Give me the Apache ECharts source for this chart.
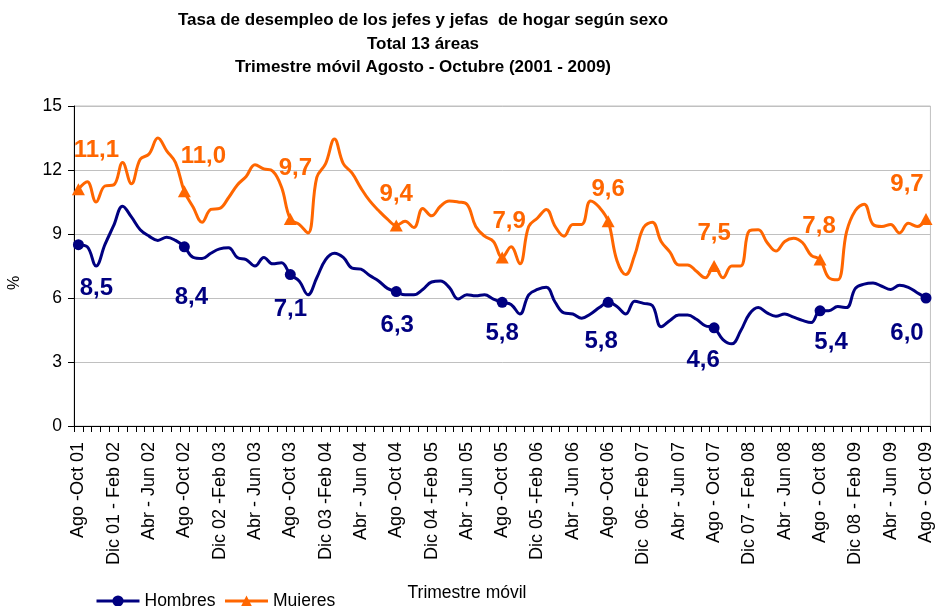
<!DOCTYPE html>
<html>
<head>
<meta charset="utf-8">
<title>Tasa de desempleo jefes y jefas de hogar</title>
<script src="https://cdn.jsdelivr.net/npm/echarts@6/dist/echarts.min.js"></script>
<style>
  html, body { margin: 0; padding: 0; background: #fff; }
  #main { width: 935px; height: 606px; }
</style>
</head>
<body>
<div id="main"></div>
<script>
// etiquetas del eje x (una cada 4 trimestres moviles)
var etiquetas = [
  'Ago -Oct 01', 'Dic 01 - Feb 02', 'Abr - Jun 02',
  'Ago -Oct 02', 'Dic 02 -Feb 03', 'Abr - Jun 03',
  'Ago -Oct 03', 'Dic 03 -Feb 04', 'Abr - Jun 04',
  'Ago -Oct 04', 'Dic 04 -Feb 05', 'Abr - Jun 05',
  'Ago -Oct 05', 'Dic 05 -Feb 06', 'Abr - Jun 06',
  'Ago -Oct 06', 'Dic  06- Feb 07', 'Abr - Jun 07',
  'Ago - Oct 07', 'Dic 07 - Feb 08', 'Abr - Jun 08',
  'Ago - Oct 08', 'Dic 08 - Feb 09', 'Abr - Jun 09',
  'Ago - Oct 09'
];
var meses = ['Ene', 'Feb', 'Mar', 'Abr', 'May', 'Jun', 'Jul', 'Ago', 'Sep', 'Oct', 'Nov', 'Dic'];

// tasa (%) por trimestre movil, Ago-Oct 2001 ... Ago-Oct 2009
var hombres = [
  8.5, 8.4, 7.5, 8.5, 9.4, 10.3, 9.8, 9.2, 8.9, 8.7, 8.85, 8.7,
  8.4, 7.9, 7.85, 8.1, 8.3, 8.35, 7.9, 7.8, 7.5, 7.9, 7.6, 7.65,
  7.1, 6.8, 6.15, 6.95, 7.8, 8.1, 7.9, 7.4, 7.35, 7.05, 6.8, 6.45,
  6.3, 6.15, 6.15, 6.4, 6.75, 6.8, 6.5, 5.95, 6.15, 6.1, 6.15, 5.95,
  5.8, 5.7, 5.25, 6.15, 6.4, 6.5, 5.8, 5.3, 5.25, 5.05, 5.25, 5.55,
  5.8, 5.6, 5.25, 5.85, 5.75, 5.65, 4.65, 4.95, 5.2, 5.2, 5.0, 4.7,
  4.6, 4.05, 3.85, 4.45, 5.25, 5.55, 5.3, 5.15, 5.25, 5.1, 4.95, 4.85,
  5.4, 5.4, 5.6, 5.55, 6.45, 6.65, 6.7, 6.55, 6.4, 6.6, 6.5, 6.25,
  6.0
];
var mujeres = [
  11.1, 11.45, 10.5, 11.25, 11.3, 12.35, 11.35, 12.5, 12.75, 13.5, 12.9, 12.35,
  11.0, 10.25, 9.55, 10.15, 10.2, 10.7, 11.3, 11.7, 12.25, 12.05, 11.95, 11.2,
  9.7, 9.45, 9.05, 11.65, 12.3, 13.45, 12.3, 11.85, 11.15, 10.55, 10.1, 9.7,
  9.4, 9.6, 9.3, 10.2, 9.85, 10.3, 10.55, 10.5, 10.4, 9.35, 8.9, 8.65,
  7.9, 8.4, 7.6, 9.35, 9.75, 10.15, 9.35, 8.9, 9.45, 9.45, 10.55, 10.25,
  9.6, 7.75, 7.1, 8.0, 9.3, 9.55, 8.65, 8.15, 7.55, 7.55, 7.25, 6.95,
  7.5, 6.95, 7.5, 7.5, 9.15, 9.2, 8.6, 8.2, 8.65, 8.8, 8.6, 8.0,
  7.8, 6.95, 6.85, 9.1, 10.1, 10.4, 9.45, 9.35, 9.45, 9.05, 9.5, 9.35,
  9.7
];

// categorias del eje: la etiqueta visible cada 4, nombre del trimestre en las demas
var categorias = [];
for (var i = 0; i < hombres.length; i++) {
  if (i % 4 === 0) {
    categorias.push(etiquetas[i / 4]);
  } else {
    var m = 7 + i;
    categorias.push(meses[m % 12] + ' - ' + meses[(m + 2) % 12] + ' ' + String(1 + Math.floor((m + 2) / 12)).padStart(2, '0') + '·');
  }
}

// desplazamiento de las etiquetas de valor (cada Ago-Oct)
var offHombres = [[18, 44], [7, 51], [0, 35], [1, 34], [0, 31], [-7, 39], [-11, 33], [11, 32], [-19, 35]];
var offMujeres = [[18, -39], [19, -35], [5, -51], [0, -31], [7, -36], [0, -32], [0, -33], [-1, -33], [-19, -35]];

function armarDatos(valores, offsets) {
  return valores.map(function (v, i) {
    if (i % 12 === 0) {
      return { value: v, label: { show: true, offset: offsets[i / 12] } };
    }
    return { value: v, symbol: 'none' };
  });
}

function coma(p) {
  return p.value.toFixed(1).replace('.', ',');
}

var fuente = 'Liberation Sans, Arial, sans-serif';
var chart = echarts.init(document.getElementById('main'));

var option = {
  animation: false,
  title: {
    text: 'Tasa de desempleo de los jefes y jefas  de hogar según sexo\nTotal 13 áreas\nTrimestre móvil Agosto - Octubre (2001 - 2009)',
    left: 423,
    top: 9,
    padding: 0,
    textAlign: 'center',
    textStyle: { fontFamily: fuente, fontSize: 17, fontWeight: 'bold', lineHeight: 23.5, color: '#000' }
  },
  legend: {
    left: 95,
    top: 592,
    itemWidth: 43,
    itemHeight: 14,
    itemGap: 8,
    padding: 0,
    lineStyle: { width: 3 },
    textStyle: { fontFamily: fuente, fontSize: 17.5, color: '#000' },
    data: ['Hombres', 'Mujeres']
  },
  grid: {
    left: 74, right: 4, top: 106, bottom: 180,
    show: true, borderColor: '#c0c0c0', borderWidth: 1
  },
  graphic: [
    {
      type: 'text', x: 467, y: 593,
      style: { text: 'Trimestre móvil', font: '17.5px ' + fuente, fill: '#000', align: 'center', verticalAlign: 'middle' }
    },
    {
      type: 'text', x: 15, y: 283, rotation: Math.PI / 2,
      style: { text: '%', font: '16px ' + fuente, fill: '#000', align: 'center', verticalAlign: 'middle' }
    }
  ],
  xAxis: {
    type: 'category',
    data: categorias,
    boundaryGap: true,
    axisLine: { lineStyle: { color: '#000', width: 1 } },
    axisTick: { show: true, interval: 0, length: 6, lineStyle: { color: '#000' } },
    axisLabel: {
      interval: 3, rotate: 90, margin: 16,
      fontFamily: fuente, fontSize: 18, color: '#000'
    },
    splitLine: { show: false }
  },
  yAxis: {
    type: 'value',
    min: 0, max: 15, interval: 3,
    axisLine: { show: true, lineStyle: { color: '#000', width: 1 } },
    axisTick: { show: true, length: 6, lineStyle: { color: '#000' } },
    axisLabel: { margin: 12, fontFamily: fuente, fontSize: 17.5, color: '#000' },
    splitLine: { lineStyle: { color: '#c0c0c0', width: 1 } }
  },
  series: [
    {
      name: 'Hombres',
      type: 'line',
      data: armarDatos(hombres, offHombres),
      smooth: 0.4,
      symbol: 'circle',
      symbolSize: 11,
      showSymbol: true,
      showAllSymbol: true,
      itemStyle: { color: '#000080' },
      lineStyle: { color: '#000080', width: 3 },
      label: {
        show: false, position: 'inside', formatter: coma,
        fontFamily: fuente, fontSize: 24, fontWeight: 'bold', color: '#000080', textBorderWidth: 0
      },
      emphasis: { disabled: true }
    },
    {
      name: 'Mujeres',
      type: 'line',
      data: armarDatos(mujeres, offMujeres),
      smooth: 0.4,
      symbol: 'triangle',
      symbolSize: [13, 12],
      showSymbol: true,
      showAllSymbol: true,
      itemStyle: { color: '#FF6600' },
      lineStyle: { color: '#FF6600', width: 3 },
      label: {
        show: false, position: 'inside', formatter: coma,
        fontFamily: fuente, fontSize: 24, fontWeight: 'bold', color: '#FF6600', textBorderWidth: 0
      },
      emphasis: { disabled: true }
    }
  ]
};

chart.setOption(option);
</script>
</body>
</html>
